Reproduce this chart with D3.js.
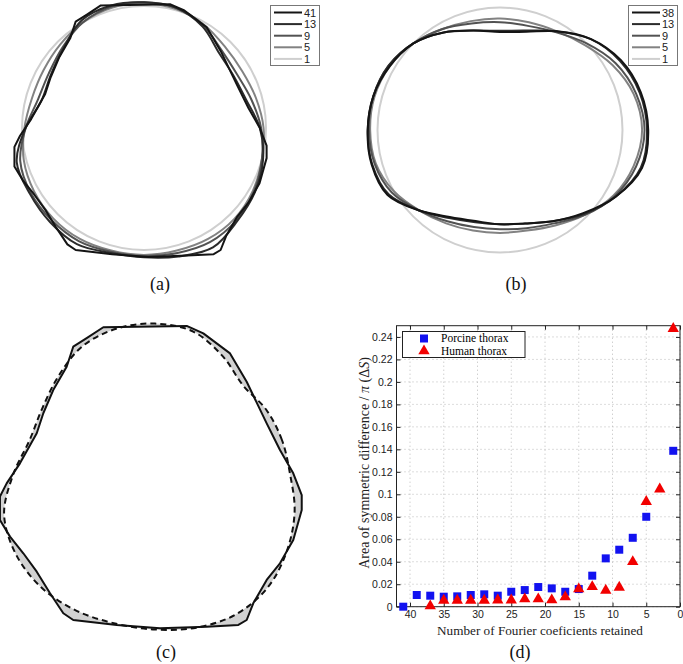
<!DOCTYPE html>
<html>
<head>
<meta charset="utf-8">
<script src="https://cdn.jsdelivr.net/npm/d3@7"></script>
<style>
body { margin: 0; background: #fff; }
svg { display: block; }
</style>
</head>
<body>
<div id="fig"></div>
<script>
// outlines are in units of the mean radius (the 1-coefficient circle = 1)
// smooth outlines sampled every 15 degrees, counter-clockwise from +x
var angles = [0, 15, 30, 45, 60, 75, 90, 105, 120, 135, 150, 165, 180, 195, 210, 225, 240, 255, 270, 285, 300, 315, 330, 345];

// finest reconstruction, [x, y] vertices (panel a "41" and solid line of panel c)
var fineOutline = [
    [-0.354, 1.005], [0.217, 1.014], [0.331, 0.963], [0.514, 0.826], [0.628, 0.632], [0.765, 0.347],
    [0.856, 0.164], [0.947, 0.005], [1.005, -0.144], [1.005, -0.247], [0.947, -0.452], [0.856, -0.612],
    [0.765, -0.726], [0.673, -0.886], [0.628, -1.0], [0.571, -1.034], [0.354, -1.046], [0.034, -1.057],
    [-0.262, -1.034], [-0.56, -1.0], [-0.628, -0.954], [-0.719, -0.817], [-0.81, -0.669], [-0.902, -0.543],
    [-0.993, -0.429], [-1.062, -0.315], [-1.062, -0.155], [-1.016, -0.064], [-0.925, 0.073], [-0.81, 0.279],
    [-0.765, 0.416], [-0.697, 0.575], [-0.605, 0.735], [-0.56, 0.872], [-0.468, 0.93]
];

var porcine13 = [0.95, 0.87, 0.85, 0.87, 0.96, 1.02, 1.03, 1.04, 1.02, 0.93, 0.88, 0.87, 0.97, 1.08, 1.08, 1.09, 1.1, 1.06, 1.06, 1.09, 1.13, 1.08, 1.05, 1.01];
var porcine9 = [0.96, 0.91, 0.88, 0.9, 0.97, 1.02, 1.03, 1.03, 1.0, 0.94, 0.9, 0.9, 0.97, 1.05, 1.07, 1.07, 1.07, 1.05, 1.05, 1.06, 1.08, 1.07, 1.04, 1.0];
var porcine5 = [0.98, 0.95, 0.93, 0.94, 0.98, 1.01, 1.02, 1.02, 1.0, 0.97, 0.95, 0.95, 0.98, 1.02, 1.04, 1.05, 1.05, 1.04, 1.04, 1.04, 1.05, 1.05, 1.03, 1.0];

var human38 = [1.21, 1.19, 1.14, 1.05, 0.93, 0.83, 0.80, 0.84, 0.92, 1.0, 1.04, 1.07, 1.08, 1.085, 1.06, 0.93, 0.82, 0.77, 0.77, 0.79, 0.86, 0.96, 1.09, 1.2];
var human13 = [1.2, 1.18, 1.13, 1.05, 0.93, 0.84, 0.81, 0.84, 0.92, 1.0, 1.05, 1.07, 1.08, 1.08, 1.05, 0.93, 0.83, 0.78, 0.77, 0.79, 0.86, 0.97, 1.09, 1.19];
var human9 = [1.18, 1.15, 1.09, 1.0, 0.92, 0.88, 0.88, 0.9, 0.95, 1.0, 1.05, 1.07, 1.07, 1.06, 1.02, 0.93, 0.86, 0.82, 0.81, 0.83, 0.88, 0.98, 1.08, 1.15];
var human5 = [1.16, 1.13, 1.06, 0.98, 0.93, 0.91, 0.91, 0.92, 0.95, 1.0, 1.04, 1.06, 1.06, 1.05, 1.0, 0.93, 0.88, 0.85, 0.84, 0.85, 0.9, 0.98, 1.07, 1.13];

// panel c dashed (smoothed) outline
var dashedOutline = [0.925, 0.9, 0.88, 0.855, 0.93, 1.01, 1.03, 1.03, 1.005, 0.94, 0.893, 0.89, 0.97, 1.07, 1.1, 1.1, 1.08, 1.06, 1.065, 1.09, 1.11, 1.095, 1.045, 0.99];

var meanRadius = 1;

var legendA = ["41", "13", "9", "5", "1"];
var legendB = ["38", "13", "9", "5", "1"];
var greys = ["#141414", "#2b2b2b", "#525252", "#828282", "#cfcfcf"];

// panel d
var porcineX = [41, 39, 37, 35, 33, 31, 29, 27, 25, 23, 21, 19, 17, 15, 13, 11, 9, 7, 5, 1];
var porcineY = [0, 0.0104, 0.0098, 0.0089, 0.0092, 0.0104, 0.011, 0.0098, 0.0133, 0.0148, 0.0175, 0.0163, 0.0133, 0.0157, 0.0276, 0.043, 0.0507, 0.0613, 0.08, 0.1387];
var humanX = [37, 35, 33, 31, 29, 27, 25, 23, 21, 19, 17, 15, 13, 11, 9, 7, 5, 3, 1];
var humanY = [0.0006, 0.0056, 0.0056, 0.0056, 0.0056, 0.0058, 0.0058, 0.0068, 0.0068, 0.006, 0.0086, 0.0157, 0.0178, 0.0145, 0.0172, 0.04, 0.0935, 0.1046, 0.2474];
var xTicks = [0, 5, 10, 15, 20, 25, 30, 35, 40];
var yTicks = [0, 0.02, 0.04, 0.06, 0.08, 0.1, 0.12, 0.14, 0.16, 0.18, 0.2, 0.22, 0.24];

var width = 683, height = 664;
var serif = "'Liberation Serif', 'DejaVu Serif', serif";
var sans = "'Liberation Sans', Arial, sans-serif";

var svg = d3.select("#fig").append("svg")
    .attr("width", width)
    .attr("height", height)
    .style("background", "#fff");

var angle = d3.scaleLinear().domain([0, 360]).range([Math.PI / 2, Math.PI / 2 - 2 * Math.PI]);

function radialPts(arr) {
    return angles.map((a, i) => ({ a: a, r: arr[i] }));
}

function outlinePanel(cx, cy, unit) {
    var g = svg.append("g").attr("transform", "translate(" + cx + "," + cy + ")");
    var r = d3.scaleLinear().domain([0, 1]).range([0, unit]);
    var x = d3.scaleLinear().domain([-1, 1]).range([-unit, unit]);
    var y = d3.scaleLinear().domain([-1, 1]).range([unit, -unit]);
    var smooth = d3.lineRadial()
        .angle(d => angle(d.a))
        .radius(d => r(d.r))
        .curve(d3.curveCatmullRomClosed.alpha(0.5));
    var poly = d3.line()
        .x(d => x(d[0]))
        .y(d => y(d[1]))
        .curve(d3.curveLinearClosed);
    return { g: g, r: r, smooth: smooth, poly: poly };
}

function legend(x0, labels) {
    var lg = svg.append("g");
    lg.append("rect")
        .attr("x", x0 + 0.5).attr("y", 5.5)
        .attr("width", 49).attr("height", 60)
        .attr("fill", "#fff").attr("stroke", "#777").attr("stroke-width", 1);
    labels.forEach((lab, i) => {
        var yy = 12.5 + i * 11.6;
        lg.append("line")
            .attr("x1", x0 + 4).attr("x2", x0 + 32)
            .attr("y1", yy).attr("y2", yy)
            .attr("stroke", greys[i]).attr("stroke-width", 2);
        lg.append("text")
            .attr("x", x0 + 34).attr("y", yy + 4)
            .attr("font-family", sans).attr("font-size", 11)
            .attr("fill", "#222")
            .text(lab);
    });
}

// ---- panel (a)
var pa = outlinePanel(144, 128, 122);
pa.g.append("circle").attr("r", pa.r(meanRadius))
    .attr("fill", "none").attr("stroke", greys[4]).attr("stroke-width", 2);
[porcine5, porcine9, porcine13].forEach((arr, i) => {
    pa.g.append("path").attr("d", pa.smooth(radialPts(arr)))
        .attr("fill", "none").attr("stroke", greys[3 - i]).attr("stroke-width", 2);
});
pa.g.append("path").attr("d", pa.poly(fineOutline))
    .attr("fill", "none").attr("stroke", greys[0]).attr("stroke-width", 2)
    .attr("stroke-linejoin", "round");
legend(270, legendA);

// ---- panel (b)
var pb = outlinePanel(500, 130, 122.5);
pb.g.append("circle").attr("r", pb.r(meanRadius))
    .attr("fill", "none").attr("stroke", greys[4]).attr("stroke-width", 2);
[human5, human9, human13, human38].forEach((arr, i) => {
    pb.g.append("path").attr("d", pb.smooth(radialPts(arr)))
        .attr("fill", "none").attr("stroke", greys[3 - i]).attr("stroke-width", 2);
});
legend(628, legendB);

// ---- panel (c)
var pc = outlinePanel(155, 474, 146);
var solidD = pc.poly(fineOutline);
var dashedD = pc.smooth(radialPts(dashedOutline));
pc.g.append("path").attr("d", solidD + dashedD)
    .attr("fill", "#d2d2d2").attr("fill-rule", "evenodd").attr("stroke", "none");
pc.g.append("path").attr("d", dashedD)
    .attr("fill", "none").attr("stroke", "#111").attr("stroke-width", 2)
    .attr("stroke-dasharray", "6,4");
pc.g.append("path").attr("d", solidD)
    .attr("fill", "none").attr("stroke", "#111").attr("stroke-width", 2)
    .attr("stroke-linejoin", "round");

// ---- panel (d)
var x = d3.scaleLinear().domain([42, 0]).range([396.5, 680]);
var y = d3.scaleLinear().domain([0, 0.25]).range([606.7, 325.7]);
var gd = svg.append("g");

gd.append("g").selectAll("line").data(xTicks).join("line")
    .attr("x1", d => x(d)).attr("x2", d => x(d))
    .attr("y1", y(0)).attr("y2", y(0.25))
    .attr("stroke", "#aaa").attr("stroke-width", 0.8).attr("stroke-dasharray", "1,3");
gd.append("g").selectAll("line").data(yTicks).join("line")
    .attr("x1", x(42)).attr("x2", x(0))
    .attr("y1", d => y(d)).attr("y2", d => y(d))
    .attr("stroke", "#aaa").attr("stroke-width", 0.8).attr("stroke-dasharray", "1,3");

var fmt = d => d === 0 ? "0" : String(+d.toFixed(2));

var axB = gd.append("g").attr("transform", "translate(0," + y(0) + ")")
    .call(d3.axisBottom(x).tickValues(xTicks).tickSizeInner(-4).tickSizeOuter(0).tickPadding(4).tickFormat(d3.format("d")));
var axT = gd.append("g").attr("transform", "translate(0," + y(0.25) + ")")
    .call(d3.axisTop(x).tickValues(xTicks).tickSizeInner(-4).tickSizeOuter(0).tickFormat(""));
var axL = gd.append("g").attr("transform", "translate(" + x(42) + ",0)")
    .call(d3.axisLeft(y).tickValues(yTicks).tickSizeInner(-4).tickSizeOuter(0).tickPadding(4).tickFormat(fmt));
var axR = gd.append("g").attr("transform", "translate(" + x(0) + ",0)")
    .call(d3.axisRight(y).tickValues(yTicks).tickSizeInner(-4).tickSizeOuter(0).tickFormat(""));
[axB, axT, axL, axR].forEach(a => {
    a.select(".domain").remove();
    a.selectAll("line").attr("stroke", "#222");
    a.selectAll("text").attr("font-family", sans).attr("font-size", 10.5).attr("fill", "#222");
});

gd.append("rect")
    .attr("x", x(42)).attr("y", y(0.25))
    .attr("width", x(0) - x(42)).attr("height", y(0) - y(0.25))
    .attr("fill", "none").attr("stroke", "#222").attr("stroke-width", 1);

var square = d3.symbol(d3.symbolSquare, 64);
var triangle = d3.symbol(d3.symbolTriangle, 56);

gd.append("g").selectAll("path")
    .data(porcineX.map((v, i) => [v, porcineY[i]]))
    .join("path")
    .attr("transform", d => "translate(" + x(d[0]) + "," + y(d[1]) + ")")
    .attr("d", square)
    .attr("fill", "#1212f0");

gd.append("g").selectAll("path")
    .data(humanX.map((v, i) => [v, humanY[i]]))
    .join("path")
    .attr("transform", d => "translate(" + x(d[0]) + "," + y(d[1]) + ")")
    .attr("d", triangle)
    .attr("fill", "#f20000");

// legend
var ld = gd.append("g");
ld.append("rect").attr("x", 402.5).attr("y", 331.5).attr("width", 122.5).attr("height", 26)
    .attr("fill", "#fff").attr("stroke", "#222").attr("stroke-width", 1);
ld.append("path").attr("transform", "translate(424,338.5)").attr("d", square).attr("fill", "#1212f0");
ld.append("path").attr("transform", "translate(424,351)").attr("d", triangle).attr("fill", "#f20000");
ld.append("text").attr("x", 441).attr("y", 341.5).attr("font-family", serif).attr("font-size", 11.5)
    .text("Porcine thorax");
ld.append("text").attr("x", 441).attr("y", 354.5).attr("font-family", serif).attr("font-size", 11.5)
    .text("Human thorax");

// axis titles
gd.append("text")
    .attr("x", 540).attr("y", 634.5)
    .attr("text-anchor", "middle")
    .attr("font-family", serif).attr("font-size", 13.2).attr("fill", "#222")
    .text("Number of Fourier coeficients retained");

var yl = gd.append("text")
    .attr("transform", "translate(369,463) rotate(-90)")
    .attr("text-anchor", "middle")
    .attr("font-family", serif).attr("font-size", 14).attr("fill", "#222");
yl.append("tspan").text("Area of symmetric difference / ");
yl.append("tspan").attr("font-style", "italic").text("π");
yl.append("tspan").text(" (Δ");
yl.append("tspan").attr("font-style", "italic").text("S");
yl.append("tspan").text(")");

// panel captions
var captions = [["(a)", 160, 290], ["(b)", 516, 290], ["(c)", 166, 658], ["(d)", 520, 658]];
svg.append("g").selectAll("text").data(captions).join("text")
    .attr("x", d => d[1]).attr("y", d => d[2])
    .attr("text-anchor", "middle")
    .attr("font-family", serif).attr("font-size", 18).attr("fill", "#111")
    .text(d => d[0]);
</script>
</body>
</html>
